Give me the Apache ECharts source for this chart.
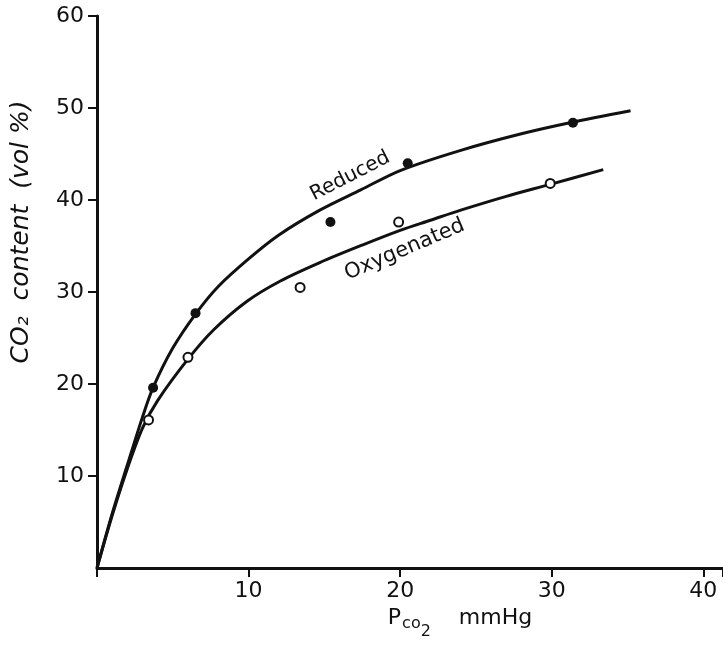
<!DOCTYPE html>
<html>
<head>
<meta charset="utf-8">
<script src="https://cdn.jsdelivr.net/npm/echarts@6/dist/echarts.min.js"></script>
<style>
  html, body { margin: 0; padding: 0; background: #fff; }
  #chart { width: 723px; height: 648px; }
</style>
</head>
<body>
<div id="chart"></div>
<script>
// curve samples (x = Pco2 mmHg, y = CO2 vol %)
const reducedCurve = [
  [0, 0], [1, 5.9], [2, 11.2], [3, 16.4], [3.7, 19.6], [5, 23.9], [6.5, 27.6],
  [8, 30.6], [10, 33.6], [12, 36.2], [14.7, 38.9], [17.4, 41.1], [20, 43.2],
  [24, 45.4], [28, 47.2], [31.2, 48.4], [35.2, 49.7]
]
const oxygenatedCurve = [
  [0, 0], [1, 5.7], [2, 10.8], [3, 15.2], [4, 18.2], [6, 22.7], [7.7, 25.9],
  [9.9, 29.0], [12.1, 31.2], [14.7, 33.2], [17.5, 35.1], [20, 36.7], [22, 37.8],
  [24, 38.9], [27, 40.4], [29.9, 41.7], [33.4, 43.3]
]
// measured points
const reducedPoints = [[3.7, 19.6], [6.5, 27.7], [15.4, 37.6], [20.5, 44.0], [31.4, 48.4]]
const oxygenatedPoints = [[3.4, 16.1], [6.0, 22.9], [13.4, 30.5], [19.9, 37.6], [29.9, 41.8]]

const xTicks = [10, 20, 30, 40]
const yTicks = [10, 20, 30, 40, 50, 60]

// curve names written along the curves
const curveLabels = [
  { name: 'Reduced', value: [16.7, 42.6], rotate: 27, size: 20 },
  { name: 'Oxygenated', value: [20.3, 34.6], rotate: 23, size: 21 }
]

const ink = '#111'
const font = 'DejaVu Sans'

const chart = echarts.init(document.getElementById('chart'))

const lineSeries = (data) => ({
  type: 'line',
  data: data,
  smooth: 0.3,
  showSymbol: false,
  lineStyle: { color: ink, width: 3 },
  z: 2,
  silent: true
})

chart.setOption({
  backgroundColor: '#fff',
  animation: false,
  grid: { left: 97, top: 16, right: 0, bottom: 80, containLabel: false, outerBoundsMode: 'none' },
  xAxis: {
    type: 'value',
    min: 0,
    max: 41.3,
    interval: 10,
    splitLine: { show: false },
    axisLine: { onZero: false, lineStyle: { color: ink, width: 3 } },
    axisTick: { show: true, length: 9, lineStyle: { color: ink, width: 2 } },
    axisLabel: { customValues: xTicks, color: ink, fontFamily: font, fontSize: 22, margin: 12 },
    name: '{p|P}{s|co}{t|2}{p|    mmHg}',
    nameLocation: 'middle',
    nameGap: 38,
    nameTextStyle: {
      rich: {
        p: { fontFamily: font, fontSize: 22, color: ink, verticalAlign: 'top' },
        s: { fontFamily: font, fontSize: 16, color: ink, verticalAlign: 'top', padding: [9, 0, 0, 1] },
        t: { fontFamily: font, fontSize: 16, color: ink, verticalAlign: 'top', padding: [17, 0, 0, 0] }
      },
      padding: [0, 0, 0, 100]
    }
  },
  yAxis: {
    type: 'value',
    min: 0,
    max: 60,
    interval: 10,
    splitLine: { show: false },
    axisLine: { onZero: false, lineStyle: { color: ink, width: 3 } },
    axisTick: { show: true, customValues: yTicks, length: 9, lineStyle: { color: ink, width: 2 } },
    axisLabel: { customValues: yTicks, color: ink, fontFamily: font, fontSize: 22, margin: 13 },
    name: 'CO\u2082  content  (vol %)',
    nameLocation: 'middle',
    nameGap: 63,
    nameRotate: 90,
    nameTextStyle: {
      color: ink, fontFamily: font, fontSize: 25, fontStyle: 'italic',
      padding: [0, 0, 0, 120]
    }
  },
  series: [
    lineSeries(reducedCurve),
    lineSeries(oxygenatedCurve),
    {
      type: 'scatter',
      data: reducedPoints,
      symbol: 'circle',
      symbolSize: 10,
      itemStyle: { color: ink, opacity: 1 },
      z: 3
    },
    {
      type: 'scatter',
      data: oxygenatedPoints,
      symbol: 'circle',
      symbolSize: 9,
      itemStyle: { color: '#fff', borderColor: ink, borderWidth: 2, opacity: 1 },
      z: 3
    },
    {
      type: 'scatter',
      data: curveLabels.map(d => ({
        name: d.name,
        value: d.value,
        label: { rotate: d.rotate, fontSize: d.size }
      })),
      symbolSize: 0,
      label: {
        show: true,
        position: 'inside',
        formatter: '{b}',
        color: ink,
        textBorderWidth: 0,
        fontFamily: font
      },
      itemStyle: { opacity: 1 },
      silent: true,
      z: 4
    }
  ]
})
</script>
</body>
</html>
